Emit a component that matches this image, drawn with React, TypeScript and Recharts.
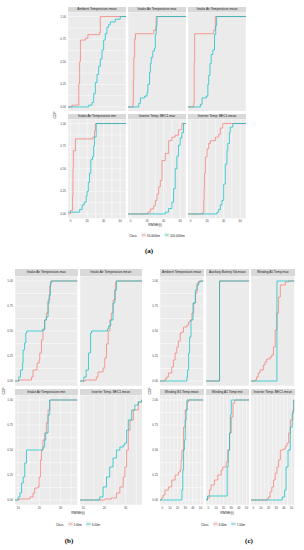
import React from 'react';
import { LineChart, Line, XAxis, YAxis, CartesianGrid } from 'recharts';

type Pt = [number, number];

const RED = '#F8766D';
const CYAN = '#00BFC4';
const FONT = '"Liberation Sans", Arial, sans-serif';

// ---------- Figure (a) ----------
const A_TITLES = [
  'Ambient Temperature.mean',
  'Intake Air Temperature.max',
  'Intake Air Temperature.mean',
  'Intake Air Temperature.min',
  'Inverter Temp. BEC1.max',
  'Inverter Temp. BEC1.mean',
];
const A_X_MAJOR = [0, 20, 40, 60];
const A_X_MINOR = [10, 30, 50];
const A_LEGEND = ['16.000km', '100.000km'];

const A1_RED: Pt[] = [[-3, 0], [2, 0.02], [10, 0.26], [11, 0.5], [12, 0.74], [18, 0.76], [21, 0.8], [35, 0.82], [36, 1], [67, 1]];
const A1_CYAN: Pt[] = [[-3, 0], [18, 0], [22, 0.02], [26, 0.05], [28, 0.15], [30, 0.27], [32, 0.36], [34, 0.45], [36, 0.53], [38, 0.63], [40, 0.74], [42, 0.81], [44, 0.88], [46, 0.91], [48, 0.94], [54, 0.97], [60, 1], [67, 1]];
const A2_RED: Pt[] = [[-3, 0], [3, 0.05], [3.5, 0.3], [4, 0.55], [5, 0.75], [6, 0.81], [28, 0.85], [31, 1], [67, 1]];
const A2_CYAN: Pt[] = [[-3, 0], [10, 0.04], [12, 0.1], [17, 0.12], [20, 0.16], [21, 0.25], [23, 0.38], [24, 0.48], [25, 0.55], [27, 0.62], [29, 0.65], [30, 0.8], [31, 0.9], [32, 1], [67, 1]];
const A3_RED: Pt[] = [[-3, 0], [4, 0.05], [4.5, 0.5], [5, 0.81], [28, 0.85], [30, 1], [67, 1]];
const A3_CYAN: Pt[] = [[-3, 0], [12, 0.03], [14, 0.1], [19, 0.12], [21, 0.25], [22, 0.35], [23.5, 0.48], [25, 0.58], [27, 0.63], [29, 0.8], [30.5, 0.9], [31.5, 1], [67, 1]];
const A4_RED: Pt[] = [[-3, 0], [0, 0.04], [2.5, 0.2], [3, 0.5], [3.5, 0.7], [6, 0.83], [27, 0.85], [29, 0.92], [30, 1], [67, 1]];
const A4_CYAN: Pt[] = [[-3, 0.02], [11, 0.05], [14, 0.1], [16.5, 0.13], [19, 0.2], [20, 0.25], [21.5, 0.35], [23, 0.45], [24.5, 0.6], [26.5, 0.63], [28, 0.75], [29, 0.85], [31, 1], [67, 1]];
const A5_RED: Pt[] = [[-3, 0], [21, 0.02], [24, 0.055], [28, 0.09], [30, 0.15], [32, 0.22], [34, 0.3], [36, 0.37], [38, 0.59], [42, 0.67], [46, 0.81], [50, 0.85], [54, 0.87], [58, 0.93], [62, 1], [67, 1]];
const A5_CYAN: Pt[] = [[-3, 0], [42, 0.02], [46, 0.06], [50, 0.13], [52, 0.28], [54, 0.5], [56, 0.64], [58, 0.76], [60, 0.84], [62, 0.9], [64, 1], [67, 1]];
const A6_RED: Pt[] = [[-3, 0], [15, 0.02], [16, 0.15], [16.5, 0.3], [17, 0.45], [18, 0.63], [20, 0.72], [22, 0.78], [24, 0.81], [30, 0.85], [34, 0.88], [36, 0.95], [39, 1], [67, 1]];
const A6_CYAN: Pt[] = [[-3, 0], [32, 0.02], [34, 0.05], [36, 0.1], [38, 0.15], [40, 0.33], [42, 0.55], [44, 0.7], [45, 0.78], [47, 0.9], [48, 0.96], [51, 1], [67, 1]];

// ---------- Figure (b) ----------
const B_TITLES = [
  'Intake Air Temperature.max',
  'Intake Air Temperature.mean',
  'Intake Air Temperature.min',
  'Inverter Temp. BEC1.mean',
];
const B_X_MAJOR = [10, 20, 30];
const B_X_MINOR = [15, 25, 35];
const B_LEGEND = ['5.00m', '6.00m'];

const B1_RED: Pt[] = [[8.5, 0], [10.5, 0.01], [16.3, 0.04], [17, 0.11], [18.9, 0.18], [19.9, 0.21], [20.2, 0.28], [21, 0.41], [21.7, 0.51], [22.5, 0.61], [23.3, 0.68], [24.1, 0.81], [24.9, 0.95], [25.4, 1], [38, 1]];
const B1_CYAN: Pt[] = [[8.5, 0], [10.3, 0.04], [11.1, 0.11], [12.1, 0.18], [12.3, 0.31], [13, 0.38], [13.6, 0.48], [14, 0.5], [21.7, 0.52], [22.5, 0.61], [23.3, 0.64], [24.1, 0.78], [24.6, 0.86], [25.2, 0.98], [25.7, 1], [38, 1]];
const B2_RED: Pt[] = [[8.5, 0], [11, 0.01], [16.2, 0.04], [17, 0.09], [19.4, 0.13], [20.2, 0.23], [21, 0.37], [21.8, 0.5], [22.6, 0.61], [23.3, 0.68], [24.1, 0.81], [25.2, 0.98], [25.6, 1], [38, 1]];
const B2_CYAN: Pt[] = [[8.5, 0], [10.3, 0.04], [11.4, 0.11], [12.5, 0.28], [13.5, 0.48], [14, 0.5], [21.4, 0.52], [22, 0.55], [23, 0.61], [24.1, 0.78], [24.9, 0.91], [25.7, 1], [38, 1]];
const B3_RED: Pt[] = [[8.5, 0], [10.5, 0.01], [15.5, 0.03], [17, 0.07], [17.8, 0.12], [19.4, 0.13], [19.9, 0.23], [20.5, 0.4], [21, 0.5], [21.7, 0.6], [22.5, 0.67], [23.3, 0.77], [24.1, 0.9], [24.9, 1], [38, 1]];
const B3_CYAN: Pt[] = [[8.5, 0], [10, 0.03], [10.8, 0.07], [11.6, 0.17], [12.4, 0.23], [13.1, 0.37], [13.9, 0.5], [21.7, 0.53], [22.5, 0.6], [23, 0.67], [24.1, 0.85], [24.9, 1], [38, 1]];
const B4_RED: Pt[] = [[8.5, 0], [20.2, 0.01], [23.3, 0.02], [25.7, 0.07], [27.3, 0.13], [28.9, 0.23], [29.7, 0.33], [30.5, 0.5], [31.3, 0.7], [32.1, 0.8], [33.7, 0.9], [36, 0.98], [37.6, 1], [38, 1]];
const B4_CYAN: Pt[] = [[8.5, 0], [17.8, 0.03], [19.4, 0.13], [21, 0.23], [22.5, 0.33], [24.1, 0.42], [25.7, 0.5], [27.3, 0.53], [28.9, 0.55], [29.7, 0.57], [30.5, 0.7], [31.3, 0.8], [32.9, 0.9], [34.4, 0.95], [36, 0.98], [37.6, 1], [38, 1]];

// ---------- Figure (c) ----------
const C_TITLES = [
  'Ambient Temperature.mean',
  'Auxiliary Battery Vd.mean',
  'Winding A1 Temp.max',
  'Winding B1 Temp.mean',
  'Winding A1 Temp.min',
  'Inverter Temp. BEC1.mean',
];
const C_X_MAJOR = [0, 10, 20, 30, 40, 50];
const C_X_MINOR = [5, 15, 25, 35, 45];
const C_LEGEND = ['4.00m', '7.00m'];

const C1_RED: Pt[] = [[-3, 0], [3.6, 0.02], [5.8, 0.04], [8, 0.08], [12.4, 0.14], [14.6, 0.21], [16.8, 0.28], [19, 0.34], [21, 0.4], [23.5, 0.48], [25.6, 0.49], [27.8, 0.54], [32.4, 0.56], [34.5, 0.59], [36.7, 0.61], [38.9, 0.68], [41.1, 0.78], [43.4, 0.88], [45.6, 0.98], [47.7, 1], [54, 1]];
const C1_CYAN: Pt[] = [[-3, 0], [32.3, 0.04], [33, 0.11], [34.5, 0.28], [35.8, 0.44], [37.6, 0.61], [40.3, 0.78], [43.4, 0.91], [45.6, 0.96], [47.7, 0.99], [50, 1], [54, 1]];
const C2_RED: Pt[] = [[-3, 0], [14.7, 1], [54, 1]];
const C2_CYAN: Pt[] = [[-3, 0], [14.8, 1], [54, 1]];
const C3_RED: Pt[] = [[-3, 0], [2.1, 0.01], [4.3, 0.04], [6.5, 0.08], [8.8, 0.11], [13.2, 0.16], [15.4, 0.19], [17.6, 0.22], [22.1, 0.24], [24.3, 0.26], [26.5, 0.34], [28.7, 0.51], [30.9, 0.68], [33.1, 0.84], [35.4, 0.96], [42, 0.99], [46.4, 1], [54, 1]];
const C3_CYAN: Pt[] = [[-3, 0], [31, 1], [54, 1]];
const C4_RED: Pt[] = [[-3, 0], [-1, 0.02], [1, 0.05], [3.6, 0.1], [8, 0.13], [12.4, 0.2], [16.8, 0.25], [21.2, 0.28], [23.5, 0.3], [24.6, 0.4], [25.7, 0.5], [27.9, 0.73], [30.1, 0.9], [32.4, 0.98], [34.5, 1], [54, 1]];
const C4_CYAN: Pt[] = [[-3, 0], [25.7, 0.1], [26.8, 0.3], [27.9, 0.5], [29, 0.6], [30.1, 0.8], [31.2, 0.9], [32.4, 1], [54, 1]];
const C5_RED: Pt[] = [[-3, 0], [-1, 0.02], [1.4, 0.1], [3.6, 0.15], [8, 0.2], [12.4, 0.25], [16.8, 0.3], [19, 0.33], [23.5, 0.38], [25.7, 0.5], [27.9, 0.67], [30.1, 0.83], [32.4, 0.97], [34.6, 1], [54, 1]];
const C5_CYAN: Pt[] = [[-3, 0], [-1, 0.04], [24.8, 0.33], [26, 0.5], [27.9, 0.67], [29, 0.85], [30.1, 1], [54, 1]];
const C6_RED: Pt[] = [[-3, 0], [17.6, 0.01], [19.9, 0.03], [22, 0.08], [24.3, 0.13], [26.5, 0.2], [28.7, 0.27], [31, 0.33], [33.2, 0.4], [35.4, 0.5], [39.8, 0.51], [42, 0.54], [44.2, 0.57], [46.4, 0.67], [48.6, 0.8], [51.7, 0.9], [53, 1], [54, 1]];
const C6_CYAN: Pt[] = [[-3, 0], [38, 0.03], [41, 0.1], [43, 0.33], [45.5, 0.5], [48.5, 0.73], [51, 0.87], [53, 1], [54, 1]];

const Y_TICKS = [0, 0.125, 0.25, 0.375, 0.5, 0.625, 0.75, 0.875, 1];
const X_LABEL = 'RMSE(t)';
const Y_LABEL = 'CDF';

type PanelProps = {
  left: number; top: number; w: number; h: number; stripH: number;
  title: string; red: Pt[]; cyan: Pt[];
  xDomain: [number, number]; xMajor: number[]; xMinor: number[];
  showY: boolean; showX: boolean;
};

function Panel(p: PanelProps) {
  const yw = p.showY ? 10 : 0;
  const xh = p.showX ? 6 : 0;
  const xTicks = [...p.xMajor, ...p.xMinor].sort((a, b) => a - b);
  const redData = p.red.map(([x, y]) => ({ x, y }));
  const cyanData = p.cyan.map(([x, y]) => ({ x, y }));
  return (
    <div style={{ position: 'absolute', left: p.left - yw, top: p.top - p.stripH }}>
      <div
        style={{
          marginLeft: yw, width: p.w, height: p.stripH, background: '#D9D9D9', color: '#1A1A1A',
          fontSize: 3.2, lineHeight: p.stripH + 'px', textAlign: 'center', whiteSpace: 'nowrap',
          overflow: 'hidden', fontFamily: FONT,
        }}
      >
        {p.title}
      </div>
      <LineChart width={p.w + yw} height={p.h + xh} margin={{ top: 0, right: 0, bottom: 0, left: 0 }}>
        <CartesianGrid fill="#EBEBEB" fillOpacity={1} stroke="#FFFFFF" strokeWidth={0.5} />
        <XAxis
          type="number" dataKey="x" domain={p.xDomain} ticks={xTicks} allowDataOverflow interval={0}
          height={xh} axisLine={false} tickLine={false} tickSize={1} tickMargin={0.5}
          tick={p.showX ? { fontSize: 3, fill: '#4D4D4D', fontFamily: FONT } : false}
          tickFormatter={(v: number) => (p.xMajor.includes(v) ? String(v) : '')}
        />
        <YAxis
          type="number" domain={[-0.05, 1.05]} ticks={Y_TICKS} allowDataOverflow interval={0}
          width={yw} axisLine={false} tickLine={false} tickSize={1} tickMargin={1}
          tick={p.showY ? { fontSize: 3, fill: '#4D4D4D', fontFamily: FONT } : false}
          tickFormatter={(v: number) => (Math.abs(v * 4 - Math.round(v * 4)) < 1e-6 ? v.toFixed(2) : '')}
        />
        <Line data={redData} dataKey="y" type="stepAfter" stroke={RED} strokeWidth={0.7} dot={false} activeDot={false} isAnimationActive={false} />
        <Line data={cyanData} dataKey="y" type="stepAfter" stroke={CYAN} strokeWidth={0.7} dot={false} activeDot={false} isAnimationActive={false} />
      </LineChart>
    </div>
  );
}

function Legend({ cx, y, labels }: { cx: number; y: number; labels: string[] }) {
  const key = (color: string) => (
    <svg width={5} height={5} style={{ display: 'block', background: '#F2F2F2', margin: '0 1px 0 2px' }}>
      <line x1={0.5} y1={2.5} x2={4.5} y2={2.5} stroke={color} strokeWidth={0.7} />
    </svg>
  );
  return (
    <div
      style={{
        position: 'absolute', left: cx, top: y, transform: 'translate(-50%, -50%)', display: 'flex',
        alignItems: 'center', fontSize: 3, fontFamily: FONT, color: '#1A1A1A', whiteSpace: 'nowrap',
      }}
    >
      <span style={{ marginRight: 2 }}>Class</span>
      {key(RED)}<span style={{ marginRight: 2 }}>{labels[0]}</span>
      {key(CYAN)}<span>{labels[1]}</span>
    </div>
  );
}

function Txt({ x, y, text, size, rotate, bold, serif }: { x: number; y: number; text: string; size: number; rotate?: boolean; bold?: boolean; serif?: boolean }) {
  return (
    <div
      style={{
        position: 'absolute', left: x, top: y, transform: `translate(-50%, -50%)${rotate ? ' rotate(-90deg)' : ''}`,
        fontSize: size, fontFamily: serif ? '"Liberation Serif", "DejaVu Serif", serif' : FONT,
        fontWeight: bold ? 'bold' : 'normal', color: serif ? '#000' : '#1A1A1A', whiteSpace: 'nowrap', lineHeight: 1,
      }}
    >
      {text}
    </div>
  );
}

export default function App() {
  const aCols = [68, 128, 188];
  const aRows = [11.5, 118.5];
  const aData: [Pt[], Pt[]][] = [
    [A1_RED, A1_CYAN], [A2_RED, A2_CYAN], [A3_RED, A3_CYAN],
    [A4_RED, A4_CYAN], [A5_RED, A5_CYAN], [A6_RED, A6_CYAN],
  ];
  const bCols = [15, 79.5];
  const bcRows = [275.5, 395];
  const bData: [Pt[], Pt[]][] = [[B1_RED, B1_CYAN], [B2_RED, B2_CYAN], [B3_RED, B3_CYAN], [B4_RED, B4_CYAN]];
  const cCols = [160, 205.5, 251];
  const cData: [Pt[], Pt[]][] = [
    [C1_RED, C1_CYAN], [C2_RED, C2_CYAN], [C3_RED, C3_CYAN],
    [C4_RED, C4_CYAN], [C5_RED, C5_CYAN], [C6_RED, C6_CYAN],
  ];

  return (
    <div style={{ position: 'absolute', left: 0, top: 0, width: 304, height: 550, background: '#FFFFFF', overflow: 'hidden' }}>
      {aData.map(([r, c], i) => (
        <Panel
          key={'a' + i}
          left={aCols[i % 3]} top={aRows[Math.floor(i / 3)]} w={58} h={99.5} stripH={5}
          title={A_TITLES[i]} red={r} cyan={c} xDomain={[-3, 67]} xMajor={A_X_MAJOR} xMinor={A_X_MINOR}
          showY={i % 3 === 0} showX={i >= 3}
        />
      ))}
      <Txt x={56} y={115} text={Y_LABEL} size={3.5} rotate />
      <Txt x={155} y={226} text={X_LABEL} size={3.5} />
      <Legend cx={157} y={235} labels={A_LEGEND} />
      <Txt x={149} y={251} text="(a)" size={7} bold serif />

      {bData.map(([r, c], i) => (
        <Panel
          key={'b' + i}
          left={bCols[i % 2]} top={bcRows[Math.floor(i / 2)]} w={62.5} h={110} stripH={6.5}
          title={B_TITLES[i]} red={r} cyan={c} xDomain={[8.5, 38]} xMajor={B_X_MAJOR} xMinor={B_X_MINOR}
          showY={i % 2 === 0} showX={i >= 2}
        />
      ))}
      <Txt x={5} y={391} text={Y_LABEL} size={3.5} rotate />
      <Txt x={78} y={514} text={X_LABEL} size={3.5} />
      <Legend cx={78} y={524} labels={B_LEGEND} />
      <Txt x={69} y={541} text="(b)" size={7} bold serif />

      {cData.map(([r, c], i) => (
        <Panel
          key={'c' + i}
          left={cCols[i % 3]} top={bcRows[Math.floor(i / 3)]} w={43.5} h={110} stripH={6.5}
          title={C_TITLES[i]} red={r} cyan={c} xDomain={[-3, 54]} xMajor={C_X_MAJOR} xMinor={C_X_MINOR}
          showY={i % 3 === 0} showX={i >= 3}
        />
      ))}
      <Txt x={151} y={391} text={Y_LABEL} size={3.5} rotate />
      <Txt x={227} y={514} text={X_LABEL} size={3.5} />
      <Legend cx={223} y={524} labels={C_LEGEND} />
      <Txt x={249} y={541} text="(c)" size={7} bold serif />
    </div>
  );
}
